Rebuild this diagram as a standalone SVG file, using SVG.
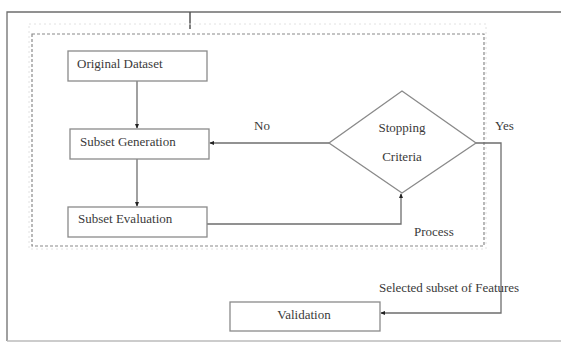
<svg xmlns="http://www.w3.org/2000/svg" width="561" height="343" viewBox="0 0 561 343">
<defs>
<style>
.box{fill:#fff;stroke:#8a8a8a;stroke-width:1.3}
.ln{fill:none;stroke:#6e6e6e;stroke-width:1.3}
.t{font-family:"Liberation Serif","DejaVu Serif",serif;font-size:13px;fill:#3a3a3a}
</style>
<marker id="ah" viewBox="0 0 6 6" refX="5" refY="3" markerWidth="5" markerHeight="5" orient="auto" markerUnits="userSpaceOnUse">
<path d="M0,0.5 L6,3 L0,5.5 Z" fill="#222"/>
</marker>
</defs>
<rect width="561" height="343" fill="#fff"/>
<g id="frame">
<path d="M7,341 V12 H565" class="ln" stroke="#999"/>
<line x1="7" y1="341" x2="565" y2="341" stroke="#bbb" stroke-width="1.3"/>
<line x1="190" y1="12" x2="190" y2="29" stroke="#555" stroke-width="1.5"/>
<rect x="29" y="24" width="457" height="225" fill="none" stroke="#e2e2e2" stroke-width="1" stroke-dasharray="2,3"/>
<rect x="32" y="34" width="452" height="212" fill="none" stroke="#8a8a8a" stroke-width="1.2" stroke-dasharray="3,2"/>
</g>
<g id="connectors">
<line x1="137" y1="81" x2="137" y2="128" class="ln" marker-end="url(#ah)"/>
<line x1="137" y1="159" x2="137" y2="206" class="ln" marker-end="url(#ah)"/>
<line x1="329" y1="143" x2="210" y2="143" class="ln" marker-end="url(#ah)"/>
<polyline points="207,224 401,224 401,194" class="ln" marker-end="url(#ah)"/>
<polyline points="476,143 501,143 501,313 381,313" class="ln" marker-end="url(#ah)"/>
<text x="254" y="130" class="t">No</text>
<text x="495" y="130" class="t">Yes</text>
<text x="414" y="236" class="t">Process</text>
<text x="379" y="292" class="t" font-size="12" textLength="140">Selected subset of Features</text>
</g>
<g id="original-dataset">
<rect x="68" y="51" width="139" height="30" class="box"/>
<text x="77" y="68" class="t">Original Dataset</text>
</g>
<g id="subset-generation">
<rect x="70" y="129" width="139" height="30" class="box"/>
<text x="80" y="146" class="t">Subset Generation</text>
</g>
<g id="subset-evaluation">
<rect x="68" y="207" width="139" height="30" class="box"/>
<text x="78" y="223" class="t">Subset Evaluation</text>
</g>
<g id="stopping-criteria">
<polygon points="402,91 476,143 402,193 329,143" class="box"/>
<text x="402" y="132" class="t" text-anchor="middle">Stopping</text>
<text x="402" y="161" class="t" text-anchor="middle">Criteria</text>
</g>
<g id="validation">
<rect x="230" y="302" width="150" height="29" class="box"/>
<text x="304" y="319" class="t" text-anchor="middle">Validation</text>
</g>
</svg>
